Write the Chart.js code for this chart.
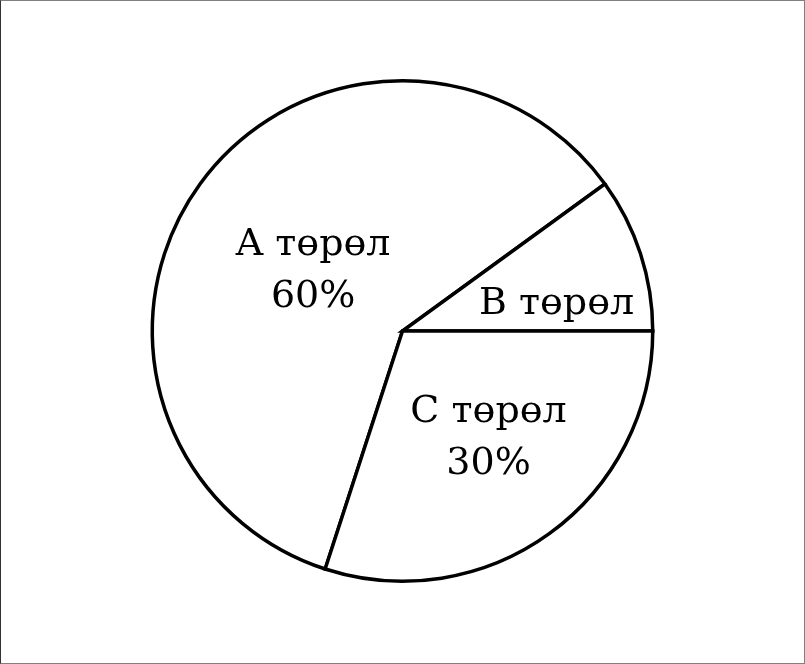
<!DOCTYPE html>
<html>
<head>
<meta charset="utf-8">
<script src="https://cdn.jsdelivr.net/npm/chart.js@4/dist/chart.umd.min.js"></script>
<style>
  html, body { margin: 0; padding: 0; background: #fff; }
  #wrap { width: 805px; height: 664px; box-sizing: border-box; border: 1px solid #808080; border-left-color: #333; }
</style>
</head>
<body>
<div id="wrap"><canvas id="pieChart" width="803" height="662"></canvas></div>
<script>
const labels = ['A төрөл', 'B төрөл', 'C төрөл'];
const shares = [60, 10, 30];
const shownPercent = ['60%', '', '30%'];

// where each label sits inside its slice (radius part, angle part)
const labelRadius = [0.43, 0.625, 0.55];
const labelAngle = [0.49, 0.725, 0.475];

const sliceLabels = {
  id: 'sliceLabels',
  afterDatasetsDraw(chart) {
    const ctx = chart.ctx;
    const arcs = chart.getDatasetMeta(0).data;
    ctx.save();
    ctx.fillStyle = '#000';
    ctx.font = '38px "DejaVu Serif", serif';
    ctx.textAlign = 'center';
    ctx.textBaseline = 'middle';
    arcs.forEach(function(arc, i) {
      const p = arc.getProps(['x', 'y', 'startAngle', 'endAngle', 'outerRadius'], true);
      const a = p.startAngle + (p.endAngle - p.startAngle) * labelAngle[i];
      const r = p.outerRadius * labelRadius[i];
      const x = p.x + Math.cos(a) * r;
      const y = p.y + Math.sin(a) * r;
      if (shownPercent[i]) {
        ctx.fillText(labels[i], x, y - 26);
        ctx.fillText(shownPercent[i], x, y + 26);
      } else {
        ctx.fillText(labels[i], x, y);
      }
    });
    ctx.restore();
  }
};

new Chart(document.getElementById('pieChart').getContext('2d'), {
  type: 'pie',
  data: {
    labels: labels,
    datasets: [{
      data: shares,
      backgroundColor: '#fff',
      borderColor: '#000',
      borderWidth: 3.5,
      borderJoinStyle: 'miter'
    }]
  },
  options: {
    responsive: false,
    animation: false,
    rotation: 198,
    layout: { padding: { top: 78, bottom: 80, left: 0, right: 0 } },
    plugins: {
      legend: { display: false },
      tooltip: { enabled: false }
    }
  },
  plugins: [sliceLabels]
});
</script>
</body>
</html>
